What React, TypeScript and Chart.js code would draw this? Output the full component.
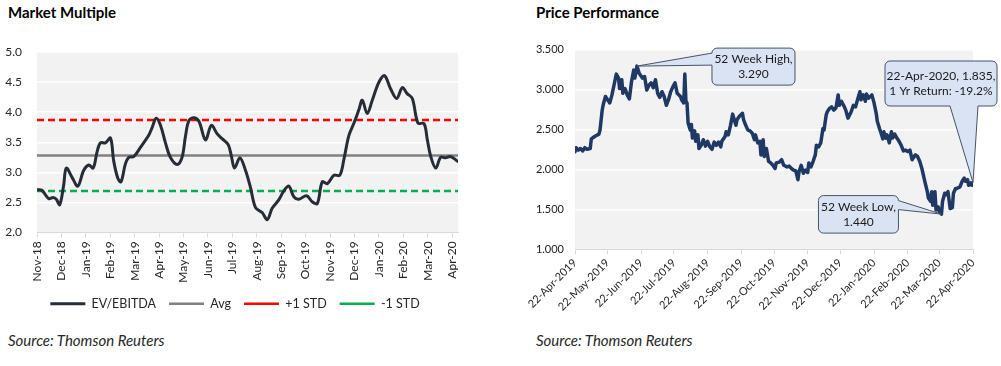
import React, { useEffect, useRef } from "react";
import { Chart, registerables } from "chart.js";

Chart.register(...registerables);

const FONT = "Lato, 'Open Sans', sans-serif";

// ---------- Market Multiple (left) ----------
const monthLabels = [
  "Nov-18", "Dec-18", "Jan-19", "Feb-19", "Mar-19", "Apr-19", "May-19", "Jun-19", "Jul-19",
  "Aug-19", "Sep-19", "Oct-19", "Nov-19", "Dec-19", "Jan-20", "Feb-20", "Mar-20", "Apr-20",
];
const leftXMax = 17.24;
const evMonths = [
  0, 0.2, 0.48, 0.66, 0.79, 0.93, 1.09, 1.2, 1.43, 1.67,
  1.91, 2.12, 2.3, 2.46, 2.6, 2.8, 3.01, 3.14, 3.31, 3.44,
  3.62, 3.76, 3.96, 4.23, 4.58, 4.71, 4.88, 5.05, 5.26, 5.46,
  5.74, 5.94, 6.08, 6.22, 6.42, 6.63, 6.9, 7.14, 7.38, 7.58,
  7.83, 7.96, 8.09, 8.31, 8.54, 8.74, 8.95, 9.22, 9.43, 9.63,
  9.9, 10.11, 10.31, 10.52, 10.72, 11.04, 11.27, 11.48, 11.68, 11.89,
  12.16, 12.4, 12.57, 12.77, 12.98, 13.18, 13.32, 13.52, 13.73, 14.0,
  14.23, 14.48, 14.73, 14.96, 15.16, 15.37, 15.6, 15.85, 15.98, 16.12,
  16.33, 16.53, 16.73, 16.94, 17.24,
];
const evValues = [
  2.71, 2.7, 2.56, 2.58, 2.55, 2.46, 2.78, 3.07, 2.92, 2.77,
  3.03, 3.12, 3.07, 3.34, 3.49, 3.49, 3.57, 3.19, 2.9, 2.84,
  3.14, 3.25, 3.26, 3.41, 3.62, 3.74, 3.9, 3.79, 3.49, 3.25,
  3.13, 3.25, 3.6, 3.86, 3.91, 3.85, 3.54, 3.78, 3.64, 3.56,
  3.46, 3.27, 3.07, 3.24, 3.03, 2.75, 2.41, 2.33, 2.21, 2.4,
  2.54, 2.69, 2.77, 2.59, 2.55, 2.61, 2.51, 2.48, 2.84, 2.81,
  2.95, 2.95, 3.22, 3.61, 3.82, 4.04, 4.2, 3.98, 4.2, 4.5,
  4.61, 4.39, 4.23, 4.41, 4.31, 4.23, 3.82, 3.81, 3.55, 3.27,
  3.07, 3.25, 3.24, 3.26, 3.18,
];
const avgValue = 3.28;
const plusStdValue = 3.87;
const minusStdValue = 2.69;

// ---------- Price Performance (right) ----------
const priceTickDays = [0, 30, 61, 91, 122, 153, 183, 214, 244, 275, 306, 335, 366];
const priceTickLabels = [
  "22-Apr-2019", "22-May-2019", "22-Jun-2019", "22-Jul-2019", "22-Aug-2019", "22-Sep-2019",
  "22-Oct-2019", "22-Nov-2019", "22-Dec-2019", "22-Jan-2020", "22-Feb-2020", "22-Mar-2020",
  "22-Apr-2020",
];
const priceDays = [
  0, 1, 3, 5, 7, 9, 11, 14, 15, 18,
  22, 23, 25, 26, 28, 30, 32, 34, 36, 38,
  40, 41, 43, 44, 46, 48, 50, 52, 54, 55,
  57, 59, 62, 64, 66, 68, 70, 72, 74, 76,
  78, 80, 82, 84, 86, 88, 90, 92, 94, 97,
  98, 100, 101, 102, 103, 104, 106, 107, 108, 110,
  111, 113, 114, 116, 118, 120, 122, 124, 126, 128,
  130, 132, 134, 135, 138, 139, 141, 143, 145, 146,
  148, 149, 151, 154, 155, 157, 159, 161, 163, 165,
  166, 168, 170, 171, 173, 174, 176, 178, 180, 182,
  184, 185, 188, 190, 192, 195, 197, 199, 201, 203,
  205, 206, 208, 210, 212, 214, 215, 217, 219, 221,
  222, 224, 226, 228, 229, 231, 232, 234, 236, 238,
  240, 242, 243, 245, 247, 249, 251, 254, 256, 258,
  260, 262, 263, 265, 267, 268, 270, 273, 275, 277,
  278, 280, 282, 283, 284, 286, 287, 289, 291, 292,
  294, 296, 298, 300, 302, 304, 306, 308, 310, 311,
  313, 315, 317, 319, 321, 322, 324, 325, 327, 328,
  329, 331, 332, 334, 335, 337, 338, 340, 341, 343,
  345, 347, 348, 350, 351, 354, 356, 358, 359, 361,
  362, 364, 365, 366,
];
const priceValues = [
  2.22, 2.27, 2.24, 2.26, 2.23, 2.27, 2.25, 2.26, 2.38, 2.41,
  2.44, 2.49, 2.74, 2.81, 2.91, 2.87, 2.83, 2.93, 3.06, 3.19,
  3.14, 3.01, 3.12, 2.95, 3.01, 2.93, 2.88, 3.1, 3.24, 3.14,
  3.29, 3.2, 3.14, 3.16, 2.99, 3.05, 3.08, 3.02, 3.12, 2.95,
  2.9, 2.97, 2.91, 2.8, 2.87, 2.97, 3.03, 3.08, 2.95, 2.91,
  2.87, 2.83, 3.19, 2.85, 2.83, 2.58, 2.49, 2.56, 2.39, 2.48,
  2.35, 2.43, 2.26, 2.3, 2.37, 2.29, 2.35, 2.28, 2.25, 2.34,
  2.3, 2.34, 2.28, 2.35, 2.41, 2.47, 2.43, 2.55, 2.69, 2.64,
  2.55, 2.62, 2.66, 2.7, 2.62, 2.55, 2.49, 2.48, 2.45, 2.37,
  2.43, 2.33, 2.35, 2.18, 2.37, 2.16, 2.26, 2.1, 2.08, 2.05,
  2.01, 2.08, 2.09, 2.12, 2.05, 2.03, 2.04, 2.01, 1.99, 1.98,
  1.87, 1.97, 2.05, 1.95, 1.99, 1.96, 2.08, 2.03, 2.1, 2.18,
  2.3, 2.28, 2.33, 2.51, 2.49, 2.68, 2.72, 2.76, 2.78, 2.74,
  2.77, 2.93, 2.8, 2.85, 2.8, 2.74, 2.64, 2.72, 2.8, 2.78,
  2.88, 2.97, 2.87, 2.93, 2.85, 2.94, 2.89, 2.93, 2.83, 2.7,
  2.6, 2.51, 2.43, 2.38, 2.47, 2.39, 2.43, 2.33, 2.47, 2.39,
  2.44, 2.39, 2.35, 2.3, 2.23, 2.24, 2.22, 2.24, 2.12, 2.14,
  2.18, 2.16, 2.1, 2.01, 1.89, 1.83, 1.72, 1.64, 1.6, 1.72,
  1.55, 1.72, 1.49, 1.53, 1.47, 1.44, 1.6, 1.7, 1.68, 1.72,
  1.51, 1.52, 1.7, 1.76, 1.76, 1.78, 1.85, 1.89, 1.85, 1.87,
  1.8, 1.83, 1.8, 1.835,
];

const highText = ["52 Week High,", "3.290"];
const lowText = ["52 Week Low,", "1.440"];
const lastText = ["22-Apr-2020, 1.835,", "1 Yr Return: -19.2%"];

const iHigh = priceValues.indexOf(Math.max(...priceValues));
const iLow = priceValues.indexOf(Math.min(...priceValues));
const iLast = priceValues.length - 1;

const callouts = [
  { index: iHigh, lines: highText, dx: 75, dy: -18, w: 83, h: 37, side: "left", a: 5, b: 17 },
  { index: iLow, lines: lowText, dx: -123, dy: -18.5, w: 80, h: 37.5, side: "right", a: 5, b: 14 },
  { index: iLast, lines: lastText, dx: -88, dy: -121.5, w: 112, h: 45, side: "bottom", a: 65, b: 93 },
];

const bgPlugin = {
  id: "plotBg",
  beforeDraw(chart: any) {
    const { ctx, chartArea } = chart;
    ctx.save();
    ctx.fillStyle = "#F2F2F2";
    ctx.fillRect(chartArea.left, chartArea.top, chartArea.right - chartArea.left, chartArea.bottom - chartArea.top);
    ctx.restore();
  },
};

// shifts the bottom legend slightly to the right, as in the reference
const legendShiftPlugin = {
  id: "legendShift",
  afterLayout(chart: any) {
    const lg = chart.legend;
    if (lg) {
      lg.left += 6;
      lg.right += 6;
    }
  },
};

function calloutPath(ctx: CanvasRenderingContext2D, x: number, y: number, w: number, h: number, r: number,
  ax: number, ay: number, side: string, a: number, b: number) {
  ctx.beginPath();
  ctx.moveTo(x + r, y);
  ctx.lineTo(x + w - r, y);
  ctx.arcTo(x + w, y, x + w, y + r, r);
  if (side === "right") { ctx.lineTo(x + w, y + a); ctx.lineTo(ax, ay); ctx.lineTo(x + w, y + b); }
  ctx.lineTo(x + w, y + h - r);
  ctx.arcTo(x + w, y + h, x + w - r, y + h, r);
  if (side === "bottom") { ctx.lineTo(x + b, y + h); ctx.lineTo(ax, ay); ctx.lineTo(x + a, y + h); }
  ctx.lineTo(x + r, y + h);
  ctx.arcTo(x, y + h, x, y + h - r, r);
  if (side === "left") { ctx.lineTo(x, y + b); ctx.lineTo(ax, ay); ctx.lineTo(x, y + a); }
  ctx.lineTo(x, y + r);
  ctx.arcTo(x, y, x + r, y, r);
  ctx.closePath();
}

const calloutPlugin = {
  id: "callouts",
  afterDraw(chart: any) {
    const { ctx } = chart;
    const xs = chart.scales.x;
    const ys = chart.scales.y;
    ctx.save();
    for (const c of callouts) {
      const ax = xs.getPixelForValue(priceDays[c.index]);
      const ay = ys.getPixelForValue(priceValues[c.index]);
      const bx = ax + c.dx;
      const by = ay + c.dy;
      calloutPath(ctx, bx, by, c.w, c.h, 5, ax, ay, c.side, c.a, c.b);
      ctx.fillStyle = "#DAE3F3";
      ctx.fill();
      ctx.lineWidth = 1;
      ctx.strokeStyle = "#44546A";
      ctx.stroke();
      ctx.fillStyle = "#1a1a1a";
      ctx.font = `12px ${FONT}`;
      ctx.textAlign = "center";
      ctx.textBaseline = "middle";
      const cx = bx + c.w / 2;
      const cy = by + c.h / 2;
      ctx.fillText(c.lines[0], cx, cy - 7);
      ctx.fillText(c.lines[1], cx, cy + 7.5);
    }
    ctx.restore();
  },
};

function ChartCanvas({ makeConfig, left, top, width, height }: any) {
  const ref = useRef<HTMLCanvasElement | null>(null);
  useEffect(() => {
    if (!ref.current) return;
    const chart = new Chart(ref.current, makeConfig());
    return () => chart.destroy();
  }, []);
  return (
    <canvas
      ref={ref}
      width={width}
      height={height}
      style={{ position: "absolute", left, top, width, height }}
    />
  );
}

function flatLine(v: number) {
  return [{ x: 0, y: v }, { x: leftXMax, y: v }];
}

function leftConfig(): any {
  return {
    type: "line",
    data: {
      datasets: [
        {
          label: "EV/EBITDA",
          data: evMonths.map((m, i) => ({ x: m, y: evValues[i] })),
          borderColor: "#262D37",
          backgroundColor: "#262D37",
          borderWidth: 3,
          pointRadius: 0,
          tension: 0.35,
          borderJoinStyle: "round",
          borderCapStyle: "round",
        },
        {
          label: "Avg",
          data: flatLine(avgValue),
          borderColor: "#808080",
          backgroundColor: "#808080",
          borderWidth: 2.5,
          pointRadius: 0,
        },
        {
          label: "+1 STD",
          data: flatLine(plusStdValue),
          borderColor: "#FF0000",
          backgroundColor: "#FF0000",
          borderWidth: 2.5,
          borderDash: [7, 4],
          pointRadius: 0,
        },
        {
          label: "-1 STD",
          data: flatLine(minusStdValue),
          borderColor: "#00B050",
          backgroundColor: "#00B050",
          borderWidth: 2.5,
          borderDash: [7, 4],
          pointRadius: 0,
        },
      ],
    },
    options: {
      animation: false,
      responsive: false,
      layout: { padding: { top: 19.7, right: 32, left: 0, bottom: 0 } },
      scales: {
        x: {
          type: "linear",
          min: 0,
          max: leftXMax,
          afterBuildTicks: (s: any) => {
            s.ticks = monthLabels.map((_, i) => ({ value: i }));
          },
          afterFit: (s: any) => {
            s.height = 52.2;
          },
          ticks: {
            autoSkip: false,
            minRotation: 90,
            maxRotation: 90,
            padding: 4,
            color: "#262626",
            font: { family: FONT, size: 12 },
            callback: (v: any) => monthLabels[v] ?? "",
          },
          grid: { drawOnChartArea: false, drawTicks: true, tickLength: 5, color: "#D9D9D9" },
          border: { display: true, color: "#D9D9D9", width: 1 },
        },
        y: {
          min: 2,
          max: 5,
          afterFit: (s: any) => {
            s.width = 37;
          },
          ticks: {
            stepSize: 0.5,
            padding: 15,
            color: "#262626",
            font: { family: FONT, size: 12 },
            callback: (v: any) => Number(v).toFixed(1),
          },
          grid: { color: "#FFFFFF", lineWidth: 1.5, drawTicks: false },
          border: { display: false },
        },
      },
      plugins: {
        legend: {
          position: "bottom",
          labels: {
            usePointStyle: true,
            pointStyle: "line",
            pointStyleWidth: 35,
            padding: 13,
            color: "#262626",
            font: { family: FONT, size: 12.5 },
          },
        },
        tooltip: { enabled: false },
      },
    },
    plugins: [bgPlugin, legendShiftPlugin],
  };
}

function rightConfig(): any {
  return {
    type: "line",
    data: {
      datasets: [
        {
          label: "Price",
          data: priceDays.map((d, i) => ({ x: d, y: priceValues[i] })),
          borderColor: "#1F3864",
          borderWidth: 3.5,
          pointRadius: 0,
          tension: 0,
          borderJoinStyle: "round",
          borderCapStyle: "round",
        },
      ],
    },
    options: {
      animation: false,
      responsive: false,
      layout: { padding: { top: 19.3, right: 28, left: 0, bottom: 0 } },
      scales: {
        x: {
          type: "linear",
          min: 0,
          max: 366,
          afterBuildTicks: (s: any) => {
            s.ticks = priceTickDays.map((d) => ({ value: d }));
          },
          afterFit: (s: any) => {
            s.height = 70.7;
          },
          ticks: {
            autoSkip: false,
            minRotation: 45,
            maxRotation: 45,
            padding: 2,
            color: "#262626",
            font: { family: FONT, size: 11 },
            callback: (v: any) => {
              const i = priceTickDays.indexOf(v);
              return i >= 0 ? priceTickLabels[i] : "";
            },
          },
          grid: { drawOnChartArea: false, drawTicks: true, tickLength: 5, color: "#D9D9D9" },
          border: { display: true, color: "#D9D9D9", width: 1 },
        },
        y: {
          min: 1,
          max: 3.5,
          afterFit: (s: any) => {
            s.width = 55;
          },
          ticks: {
            stepSize: 0.5,
            padding: 11,
            color: "#1a1a1a",
            font: { family: FONT, size: 11 },
            callback: (v: any) => Number(v).toFixed(3),
          },
          grid: { color: "#FFFFFF", lineWidth: 1.5, drawTicks: false },
          border: { display: false },
        },
      },
      plugins: {
        legend: { display: false },
        tooltip: { enabled: false },
      },
    },
    plugins: [bgPlugin, calloutPlugin],
  };
}

const titleStyle: any = {
  position: "absolute",
  top: 5,
  font: `bold 15px ${FONT}`,
  lineHeight: "15px",
  color: "#000",
  whiteSpace: "nowrap",
};
const sourceStyle: any = {
  position: "absolute",
  top: 333,
  font: `italic 15px ${FONT}`,
  lineHeight: "15px",
  color: "#262626",
  whiteSpace: "nowrap",
};

export default function App() {
  return (
    <div style={{ position: "absolute", left: 0, top: 0, width: 1001, height: 366, background: "#fff", overflow: "hidden" }}>
      <div style={{ ...titleStyle, left: 8 }}>Market Multiple</div>
      <div style={{ ...titleStyle, left: 536 }}>Price Performance</div>
      <ChartCanvas makeConfig={leftConfig} left={0} top={30} width={490} height={290} />
      <ChartCanvas makeConfig={rightConfig} left={520} top={30} width={481} height={290} />
      <div style={{ ...sourceStyle, left: 8 }}>Source: Thomson Reuters</div>
      <div style={{ ...sourceStyle, left: 536 }}>Source: Thomson Reuters</div>
    </div>
  );
}
